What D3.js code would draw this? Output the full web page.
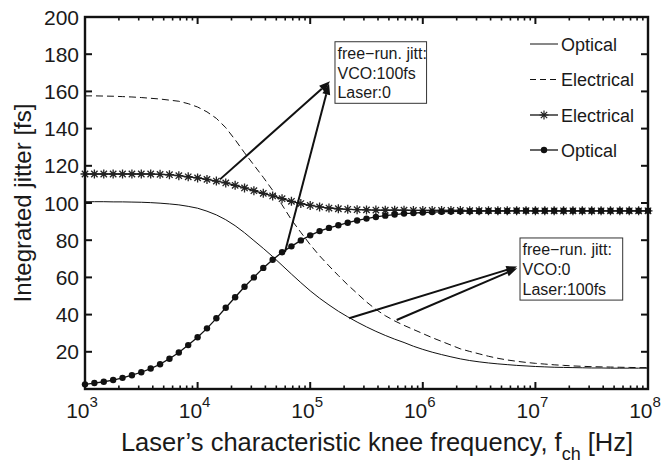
<!DOCTYPE html>
<html><head><meta charset="utf-8">
<script src="https://cdn.jsdelivr.net/npm/d3@7"></script>
<style>body{margin:0;background:#fff}svg{display:block}text{font-family:"Liberation Sans",Arial,Helvetica,sans-serif;fill:#1a1a1a}</style>
</head><body>
<svg id="c" width="668" height="467"></svg>
<script>
// frequencies: 61 log-spaced points, 12 per decade, 1e3 .. 1e8
const exps = d3.range(0, 61).map(i => 3 + i / 12);
const freqs = exps.map(e => Math.pow(10, e));

const opticalSolid = [100.7,100.7,100.7,100.6,100.6,100.5,100.4,100.2,99.9,99.5,
  99.0,98.2,97.2,95.6,93.6,91.0,87.8,84.0,79.8,75.6,
  71.2,66.5,61.8,57.2,52.8,48.8,45.2,41.8,38.8,36.0,
  33.4,31.0,28.8,26.8,25.0,23.0,21.3,19.8,18.5,17.3,
  16.2,15.3,14.6,14.0,13.5,13.1,12.7,12.4,12.1,11.9,
  11.7,11.6,11.5,11.4,11.3,11.3,11.2,11.2,11.2,11.2,11.2];
const electricalDashed = [157.6,157.6,157.5,157.4,157.2,157.0,156.7,156.3,155.9,155.3,
  154.7,153.4,151.6,149.0,145.5,140.5,134.0,127.0,120.4,113.8,
  106.8,99.0,91.0,84.2,77.6,71.6,66.2,61.0,56.0,51.4,
  46.8,42.8,39.4,36.6,34.2,32.0,29.8,27.6,25.6,23.6,
  21.6,20.2,18.9,17.6,16.5,15.6,14.9,14.3,13.8,13.4,
  13.0,12.7,12.4,12.2,12.0,11.9,11.8,11.7,11.6,11.5,11.5];
const electricalStar = [115.6,115.6,115.6,115.6,115.6,115.6,115.6,115.6,115.4,115.2,
  114.7,114.1,113.5,112.7,111.8,110.8,109.5,108.1,106.6,105.2,
  103.8,102.3,100.9,99.7,98.7,97.9,97.3,96.9,96.6,96.4,
  96.3,96.2,96.1,96.1,96.1,96.0,96.0,96.0,96.0,96.0,
  96.0,95.9,95.9,95.9,95.9,95.9,95.9,95.9,95.8,95.8,
  95.8,95.8,95.8,95.8,95.8,95.8,95.8,95.8,95.8,95.8,95.8];
const opticalDot = [2.5,3.2,3.9,4.8,6.0,7.4,9.0,11.0,13.3,16.3,
  19.6,23.6,27.8,32.6,38.0,43.7,49.3,55.0,60.0,65.1,
  69.5,73.5,76.7,79.9,82.6,84.9,86.6,88.0,89.4,90.6,
  91.6,92.5,93.2,93.8,94.3,94.6,94.9,95.1,95.3,95.4,
  95.5,95.6,95.6,95.7,95.7,95.7,95.8,95.8,95.8,95.8,
  95.8,95.8,95.8,95.8,95.8,95.8,95.8,95.8,95.8,95.8,95.8];

const yTicks = [20,40,60,80,100,120,140,160,180,200];
const xTickExps = [3,4,5,6,7,8];
const legendLabels = ["Optical","Electrical","Electrical","Optical"];
const yLabel = "Integrated jitter [fs]";
const boxTexts = [["free\u2212run. jitt:","VCO:100fs","Laser:0"],["free\u2212run. jitt:","VCO:0","Laser:100fs"]];
// annotation boxes [xmin,xmax,ymax,ymin] in data units
const boxes = [[1.66e5,1.08e6,186.7,153.6],[7.3e6,5.96e7,81.2,47.8]];
// arrows [x0,y0,x1,y1] in data units
const arrows = [[1.58e4,112.7,1.5e5,165.4],[5.97e4,73.7,1.47e5,164.2],
                [2.22e5,38.0,6.9e6,65.8],[5.86e5,37.1,6.9e6,64.9]];

const svg = d3.select("#c");
const L = 85, T = 17, W = 563, H = 372;
const x = d3.scaleLog().domain([1e3,1e8]).range([L, L+W]);
const y = d3.scaleLinear().domain([0,200]).range([T+H, T]);

const g = svg.append("g");
const line = d3.line().x((d,i)=>x(freqs[i])).y(d=>y(d));

g.append("path").attr("d", line(opticalSolid)).attr("fill","none").attr("stroke","#111").attr("stroke-width",1);
g.append("path").attr("d", line(electricalDashed)).attr("fill","none").attr("stroke","#111").attr("stroke-width",1).attr("stroke-dasharray","7,4");
g.append("path").attr("d", line(electricalStar)).attr("fill","none").attr("stroke","#111").attr("stroke-width",1.3);
g.append("path").attr("d", line(opticalDot)).attr("fill","none").attr("stroke","#111").attr("stroke-width",1.3);

const starPath = (cx, cy, r) => {
  const a = r*0.707;
  return `M${cx-r},${cy}L${cx+r},${cy}M${cx},${cy-r}L${cx},${cy+r}M${cx-a},${cy-a}L${cx+a},${cy+a}M${cx-a},${cy+a}L${cx+a},${cy-a}`;
};
g.append("g").selectAll("path").data(electricalStar).join("path")
  .attr("d",(d,i)=>starPath(x(freqs[i]), y(d), 4.5)).attr("stroke","#222").attr("stroke-width",1.3).attr("fill","none");
g.append("g").selectAll("circle").data(opticalDot).join("circle")
  .attr("cx",(d,i)=>x(freqs[i])).attr("cy",d=>y(d)).attr("r",3.2).attr("fill","#111");

// axes box
const ax = svg.append("g");
ax.append("rect").attr("x",L).attr("y",T).attr("width",W).attr("height",H).attr("fill","none").attr("stroke","#111").attr("stroke-width",2.4);

// y ticks left/right
yTicks.forEach(v=>{
  ax.append("line").attr("x1",L).attr("x2",L+7).attr("y1",y(v)).attr("y2",y(v)).attr("stroke","#111").attr("stroke-width",2);
  ax.append("line").attr("x1",L+W).attr("x2",L+W-7).attr("y1",y(v)).attr("y2",y(v)).attr("stroke","#111").attr("stroke-width",2);
  ax.append("text").attr("x",L-6).attr("y",y(v)+7.5).attr("text-anchor","end").attr("font-size",21).text(v);
});
// x ticks
const minor = [];
for (let e=3;e<8;e++) for (let k=2;k<10;k++) minor.push(k*Math.pow(10,e));
minor.forEach(v=>{
  ax.append("line").attr("x1",x(v)).attr("x2",x(v)).attr("y1",T+H).attr("y2",T+H-3.5).attr("stroke","#111").attr("stroke-width",1.6);
  ax.append("line").attr("x1",x(v)).attr("x2",x(v)).attr("y1",T).attr("y2",T+3.5).attr("stroke","#111").attr("stroke-width",1.6);
});
xTickExps.forEach(e=>{
  const v = Math.pow(10,e);
  ax.append("line").attr("x1",x(v)).attr("x2",x(v)).attr("y1",T+H).attr("y2",T+H-7).attr("stroke","#111").attr("stroke-width",2);
  ax.append("line").attr("x1",x(v)).attr("x2",x(v)).attr("y1",T).attr("y2",T+7).attr("stroke","#111").attr("stroke-width",2);
  const t = ax.append("text").attr("x",x(v)-3).attr("y",T+H+29).attr("text-anchor","middle").attr("font-size",21);
  t.append("tspan").text("10");
  t.append("tspan").attr("dy",-11).attr("font-size",15).text(e);
});

// axis labels
const xl = svg.append("text").attr("x",377).attr("y",451).attr("text-anchor","middle").attr("font-size",25.5);
xl.append("tspan").text("Laser\u2019s characteristic knee frequency, f");
xl.append("tspan").attr("dy",9).attr("font-size",18).text("ch");
xl.append("tspan").attr("dy",-9).text(" [Hz]");
svg.append("text").attr("transform",`translate(31,${T+H/2}) rotate(-90)`).attr("text-anchor","middle").attr("font-size",24).text(yLabel);

// annotation arrows
const an = svg.append("g");
arrows.forEach(a=>{
  const x0=x(a[0]), y0=y(a[1]), x1=x(a[2]), y1=y(a[3]);
  const ang = Math.atan2(y1-y0, x1-x0), len=11, w=4;
  const bx = x1 - len*Math.cos(ang), by = y1 - len*Math.sin(ang);
  an.append("line").attr("x1",x0).attr("y1",y0).attr("x2",bx).attr("y2",by).attr("stroke","#111").attr("stroke-width",2);
  an.append("path").attr("d",`M${x1},${y1}L${bx - w*Math.sin(ang)},${by + w*Math.cos(ang)}L${bx + w*Math.sin(ang)},${by - w*Math.cos(ang)}Z`).attr("fill","#111");
});
boxes.forEach((b,bi)=>{
  const x0=x(b[0]), x1=x(b[1]), y0=y(b[2]), y1=y(b[3]);
  an.append("rect").attr("x",x0).attr("y",y0).attr("width",x1-x0).attr("height",y1-y0).attr("fill","#fff").attr("stroke","#333").attr("stroke-width",1);
  boxTexts[bi].forEach((s,k)=>{
    an.append("text").attr("x",x0+2.5).attr("y",y0+17+k*19.8).attr("font-size",16).text(s);
  });
});

// legend
const lg = svg.append("g");
const rowY = [44,79.5,115,150];
legendLabels.forEach((s,i)=>{
  const yy = rowY[i];
  const ln = lg.append("line").attr("x1",530).attr("x2",558).attr("y1",yy).attr("y2",yy).attr("stroke","#111").attr("stroke-width",i>=2?1.3:1);
  if (i===1) ln.attr("stroke-dasharray","6,4");
  if (i===2) lg.append("path").attr("d",starPath(544,yy,4.5)).attr("stroke","#222").attr("stroke-width",1.2);
  if (i===3) lg.append("circle").attr("cx",544).attr("cy",yy).attr("r",3.2).attr("fill","#111");
  lg.append("text").attr("x",561).attr("y",yy+6.5).attr("font-size",18).text(s);
});
</script>
</body></html>
